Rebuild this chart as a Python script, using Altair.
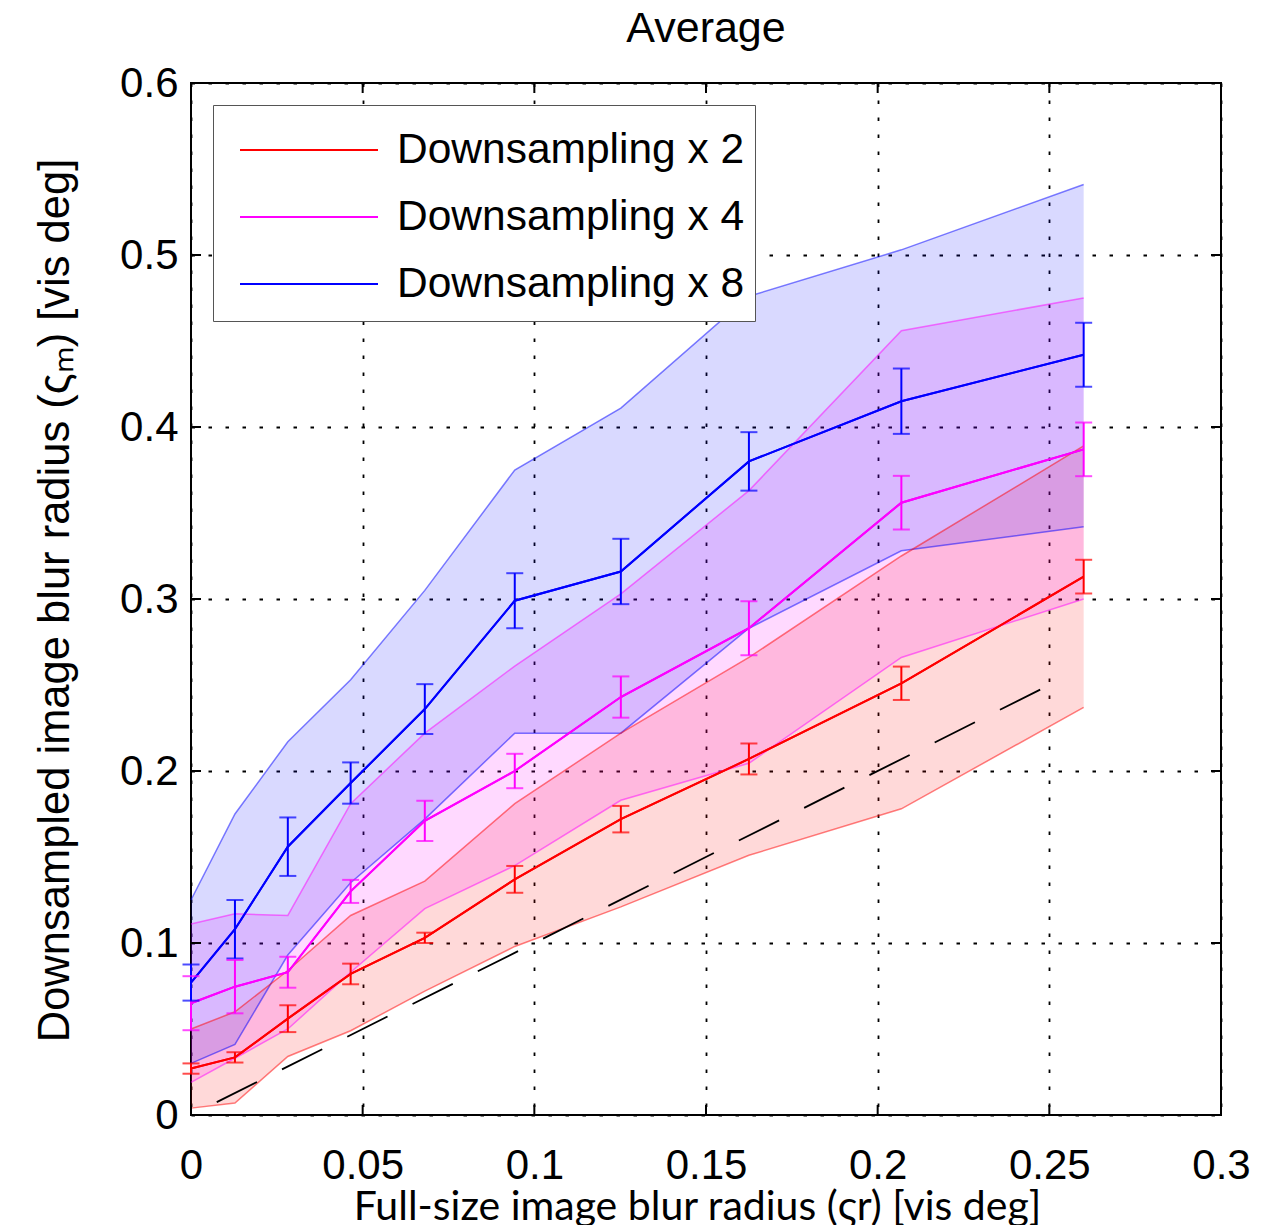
import altair as alt
import pandas as pd

# ---------------- data ----------------
series_names = ["Downsampling x 2", "Downsampling x 4", "Downsampling x 8"]
series_colors = ["#ff0000", "#ff00ff", "#0000ff"]

x_vals = [0.0, 0.0128, 0.0282, 0.0465, 0.0681, 0.0943, 0.1252, 0.1625, 0.2069, 0.2600]

mean_x2 = [0.027, 0.0335, 0.056, 0.082, 0.103, 0.137, 0.172, 0.207, 0.251, 0.313]
err_x2 = [0.003, 0.003, 0.0078, 0.006, 0.003, 0.0078, 0.0077, 0.009, 0.0097, 0.0098]
lo_x2 = [0.004, 0.007, 0.034, 0.049, 0.072, 0.098, 0.121, 0.151, 0.178, 0.237]
hi_x2 = [0.050, 0.060, 0.084, 0.116, 0.136, 0.181, 0.222, 0.266, 0.325, 0.389]

mean_x4 = [0.065, 0.0746, 0.083, 0.130, 0.171, 0.200, 0.243, 0.283, 0.356, 0.387]
err_x4 = [0.0157, 0.0155, 0.009, 0.0067, 0.0117, 0.010, 0.012, 0.0157, 0.0156, 0.0156]
lo_x4 = [0.019, 0.033, 0.050, 0.083, 0.120, 0.145, 0.183, 0.2045, 0.266, 0.300]
hi_x4 = [0.111, 0.117, 0.116, 0.181, 0.222, 0.261, 0.303, 0.363, 0.456, 0.475]

mean_x8 = [0.077, 0.108, 0.156, 0.193, 0.236, 0.299, 0.316, 0.380, 0.415, 0.442]
err_x8 = [0.0105, 0.017, 0.017, 0.012, 0.0145, 0.016, 0.019, 0.017, 0.019, 0.0186]
lo_x8 = [0.030, 0.041, 0.093, 0.135, 0.172, 0.222, 0.222, 0.283, 0.328, 0.342]
hi_x8 = [0.125, 0.175, 0.217, 0.253, 0.305, 0.375, 0.411, 0.476, 0.503, 0.541]

diag_x = [0.0075, 0.25]
diag_y = [0.0075, 0.25]

x_ticks = [0, 0.05, 0.1, 0.15, 0.2, 0.25, 0.3]
y_ticks = [0, 0.1, 0.2, 0.3, 0.4, 0.5, 0.6]

# ---------------- tables ----------------
rows = []
for name, m, e, lo, hi in zip(series_names,
                              [mean_x2, mean_x4, mean_x8],
                              [err_x2, err_x4, err_x8],
                              [lo_x2, lo_x4, lo_x8],
                              [hi_x2, hi_x4, hi_x8]):
    for xv, mv, ev, lv, hv in zip(x_vals, m, e, lo, hi):
        rows.append(dict(series=name, x=xv, mean=mv, ymin=mv - ev, ymax=mv + ev, lo=lv, hi=hv))
df = pd.DataFrame(rows)
diag_df = pd.DataFrame({"x": diag_x, "y": diag_y})
xt_df = pd.DataFrame({"x": x_ticks})
yt_df = pd.DataFrame({"y": y_ticks})

W, H = 1030, 1032

xscale = alt.Scale(domain=[0, 0.3], nice=False, zero=False)
yscale = alt.Scale(domain=[0, 0.6], nice=False, zero=False)

xaxis = alt.Axis(values=x_ticks, format="~g", grid=True, ticks=False, tickSize=0, domain=False,
                 labelFlush=False, labelOverlap=False,
                 labelPadding=30, labelFont="Liberation Sans", labelFontSize=42, labelColor="black",
                 title="Full-size image blur radius (ςr) [vis deg]",
                 titleFont="Lato", titleFontSize=41, titleFontWeight="normal", titleColor="black",
                 titleX=506, titleY=104, titleBaseline="alphabetic", titleAlign="center")
yaxis = alt.Axis(values=y_ticks, format="~g", grid=True, ticks=False, tickSize=0, domain=False,
                 labelFlush=False, labelOverlap=False,
                 labelPadding=13, labelFont="Liberation Sans", labelFontSize=42, labelColor="black",
                 title="Downsampled image blur radius (ςₘ) [vis deg]",
                 titleFont="Liberation Sans", titleFontSize=43.5, titleFontWeight="normal", titleColor="black",
                 titleX=-136, titleY=517, titleBaseline="middle", titleAlign="center", titleAngle=-90)


def X(field):
    return alt.X(field, type="quantitative", scale=xscale, axis=xaxis)


def Y(field):
    return alt.Y(field, type="quantitative", scale=yscale, axis=yaxis)


cscale = alt.Scale(domain=series_names, range=series_colors)
color_nolegend = alt.Color("series:N", scale=cscale, legend=None)

legend = alt.Legend(
    title=None, orient="none", legendX=22, legendY=22,
    symbolType="M-0.5294,0L3.5294,0M-0.5294,0.6471L-0.5294,0.6471",
    symbolSize=4624, symbolStrokeWidth=2, symbolOffset=0,
    labelFont="Liberation Sans", labelFontSize=42.5, labelColor="black",
    labelOffset=104, labelLimit=1000,
    padding=10, rowPadding=5,
    strokeColor="#555555", fillColor="white",
)
color_legend = alt.Color("series:N", scale=cscale, legend=legend)

base = alt.Chart(df)

# first layer defines the legend (an identical copy is redrawn on top later)
means_legend = base.mark_line(strokeWidth=2).encode(
    x=X("x"), y=Y("mean"), color=color_legend)

bands = base.mark_area(opacity=0.15).encode(
    x=X("x"), y=Y("lo"), y2="hi", color=color_nolegend, detail="series:N")

edge_lo = base.mark_line(strokeWidth=1.5, opacity=0.5).encode(
    x=X("x"), y=Y("lo"), color=color_nolegend, detail="series:N")
edge_hi = base.mark_line(strokeWidth=1.5, opacity=0.5).encode(
    x=X("x"), y=Y("hi"), color=color_nolegend, detail="series:N")

diag = alt.Chart(diag_df).mark_line(color="black", strokeWidth=1.8, strokeDash=[45, 28]).encode(
    x=X("x"), y=Y("y"))

means = base.mark_line(strokeWidth=2).encode(
    x=X("x"), y=Y("mean"), color=color_nolegend)

bars = base.mark_rule(strokeWidth=2).encode(
    x=X("x"), y=Y("ymin"), y2="ymax", color=color_nolegend)
caps_lo = base.mark_tick(orient="horizontal", size=17, thickness=2).encode(
    x=X("x"), y=Y("ymin"), color=color_nolegend)
caps_hi = base.mark_tick(orient="horizontal", size=17, thickness=2).encode(
    x=X("x"), y=Y("ymax"), color=color_nolegend)

tick_b = alt.Chart(xt_df).mark_rule(color="black", strokeWidth=2).encode(
    x=X("x"), y=alt.value(H), y2=alt.value(H - 10))
tick_t = alt.Chart(xt_df).mark_rule(color="black", strokeWidth=2).encode(
    x=X("x"), y=alt.value(0), y2=alt.value(10))
tick_l = alt.Chart(yt_df).mark_rule(color="black", strokeWidth=2).encode(
    y=Y("y"), x=alt.value(0), x2=alt.value(10))
tick_r = alt.Chart(yt_df).mark_rule(color="black", strokeWidth=2).encode(
    y=Y("y"), x=alt.value(W - 10), x2=alt.value(W))

chart = alt.layer(
    means_legend, bands, edge_lo, edge_hi, diag, means, bars, caps_lo, caps_hi,
    tick_b, tick_t, tick_l, tick_r,
).properties(
    width=W, height=H,
    background="white",
    padding={"left": 183, "top": 75, "right": 46, "bottom": 110},
    autosize=alt.AutoSizeParams(type="none"),
    title=alt.TitleParams("Average", font="Liberation Sans", fontSize=43, fontWeight="normal",
                          color="black", anchor="middle", frame="group", offset=-23,
                          baseline="alphabetic"),
).configure_view(
    stroke="black", strokeWidth=2, fill="white"
).configure_axis(
    gridColor="black", gridDash=[3.5, 13.5], gridWidth=1.8, gridOpacity=1
)

chart.save("out.html", embed_options={"renderer": "svg", "actions": False})
